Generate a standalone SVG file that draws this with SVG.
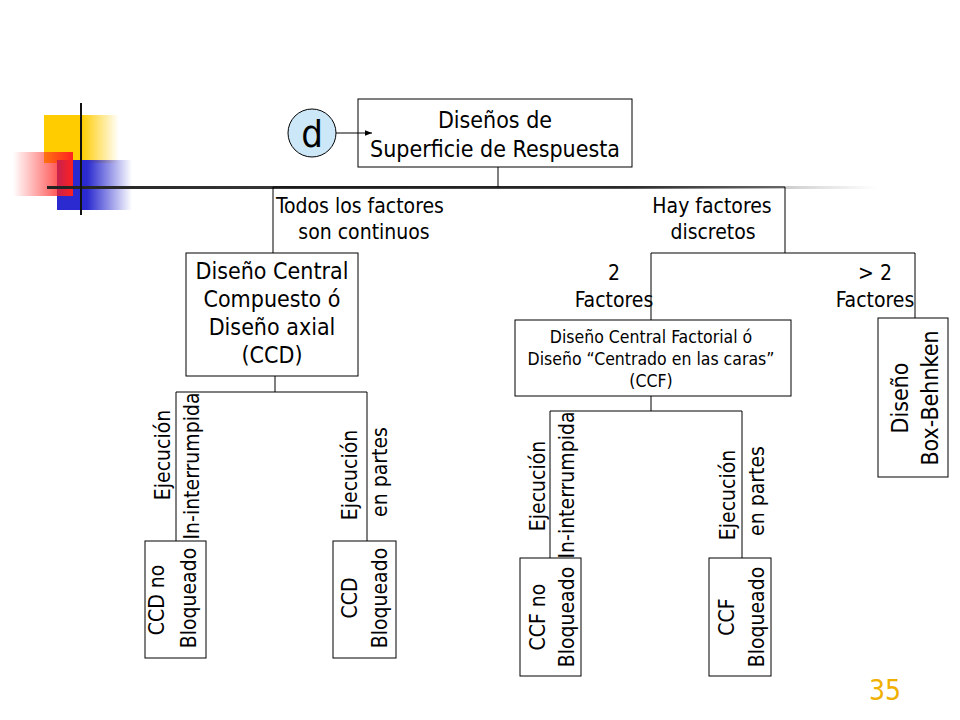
<svg xmlns="http://www.w3.org/2000/svg" width="960" height="720" viewBox="0 0 960 720">
<defs>
<linearGradient id="gy" x1="0" x2="1"><stop offset="0.5" stop-color="#ffcc00"/><stop offset="1" stop-color="#ffcc00" stop-opacity="0"/></linearGradient>
<linearGradient id="gr" x1="1" x2="0"><stop offset="0" stop-color="#ff2020"/><stop offset="1" stop-color="#ff2020" stop-opacity="0"/></linearGradient>
<linearGradient id="gb" x1="0" x2="1"><stop offset="0.4" stop-color="#2a2ad0"/><stop offset="1" stop-color="#2a2ad0" stop-opacity="0"/></linearGradient>
<linearGradient id="gl" x1="0" x2="1"><stop offset="0" stop-color="#222"/><stop offset="0.7" stop-color="#555"/><stop offset="1" stop-color="#888" stop-opacity="0"/></linearGradient>
<marker id="ar" viewBox="0 0 10 10" refX="10" refY="5" markerWidth="7" markerHeight="7" orient="auto"><path d="M0,1 L10,5 L0,9 z" fill="#000"/></marker>
</defs>
<style>
text{font-family:"DejaVu Sans Condensed","DejaVu Sans",sans-serif;font-size:23px;text-anchor:middle;fill:#000}
.s{font-size:21px}
.xs{font-size:17.5px}
rect.n{fill:#fff;stroke:#000;stroke-width:1}
.c line,.c path{stroke:#000;stroke-width:1;fill:none}
</style>
<rect width="960" height="720" fill="#fff"/>
<g id="decor">
<rect x="44" y="115" width="75" height="48" fill="url(#gy)"/>
<rect x="57" y="160" width="75" height="50" fill="url(#gb)"/>
<rect x="13" y="152" width="60" height="44" fill="url(#gr)"/>
<rect x="47" y="186" width="830" height="3" fill="url(#gl)"/>
<rect x="80" y="103" width="2" height="112" fill="#111"/>
</g>
<g id="d"><circle cx="312" cy="133" r="24" fill="#cce8f8" stroke="#000"/><text x="312" y="147" style="font-size:38px">d</text></g>
<g id="top"><rect class="n" x="358" y="99" width="274" height="68"/><text x="495" y="128">Diseños de</text><text x="495" y="157">Superficie de Respuesta</text></g>
<g id="ccd"><rect class="n" x="186" y="253" width="172" height="123"/><text x="272" y="279">Diseño Central</text><text x="272" y="307">Compuesto ó</text><text x="272" y="335">Diseño axial</text><text x="272" y="363">(CCD)</text></g>
<g id="ccf"><rect class="n" x="515" y="320" width="276" height="76"/><text class="xs" x="651" y="343">Diseño Central Factorial ó</text><text class="xs" x="651" y="365">Diseño “Centrado en las caras”</text><text class="xs" x="651" y="387">(CCF)</text></g>
<g id="bb"><rect class="n" x="878" y="318" width="70" height="159"/><text transform="translate(908,398) rotate(-90)">Diseño</text><text transform="translate(938,398) rotate(-90)">Box-Behnken</text></g>
<g id="b1"><rect class="n" x="145" y="541" width="61" height="117"/><text class="s" transform="translate(164,600) rotate(-90)">CCD no</text><text class="s" transform="translate(196,598) rotate(-90)">Bloqueado</text></g>
<g id="b2"><rect class="n" x="333" y="541" width="63" height="117"/><text class="s" transform="translate(357,598) rotate(-90)">CCD</text><text class="s" transform="translate(387,598) rotate(-90)">Bloqueado</text></g>
<g id="b3"><rect class="n" x="520" y="558" width="61" height="118"/><text class="s" transform="translate(545,617) rotate(-90)">CCF no</text><text class="s" transform="translate(574,617) rotate(-90)">Bloqueado</text></g>
<g id="b4"><rect class="n" x="709" y="558" width="62" height="118"/><text class="s" transform="translate(734,617) rotate(-90)">CCF</text><text class="s" transform="translate(764,617) rotate(-90)">Bloqueado</text></g>
<g class="c" id="connectors">
<line x1="336" y1="133" x2="372" y2="133" marker-end="url(#ar)"/>
<line x1="498" y1="167" x2="498" y2="187"/>
<line x1="273" y1="187" x2="785" y2="187"/>
<line x1="273" y1="187" x2="273" y2="253"/>
<line x1="785" y1="187" x2="785" y2="253"/>
<line x1="651" y1="253" x2="915" y2="253"/>
<line x1="651" y1="253" x2="651" y2="320"/>
<line x1="915" y1="253" x2="915" y2="318"/>
<line x1="275" y1="376" x2="275" y2="392"/>
<line x1="176" y1="392" x2="367" y2="392"/>
<line x1="176" y1="392" x2="176" y2="541"/>
<line x1="367" y1="392" x2="367" y2="541"/>
<line x1="651" y1="396" x2="651" y2="411"/>
<line x1="550" y1="411" x2="742" y2="411"/>
<line x1="550" y1="411" x2="550" y2="558"/>
<line x1="742" y1="411" x2="742" y2="558"/>
</g>
<g id="lbl1"><text class="s" x="360" y="213">Todos los factores</text><text class="s" x="364" y="239">son continuos</text></g>
<g id="lbl2"><text class="s" x="712" y="213">Hay factores</text><text class="s" x="713" y="239">discretos</text></g>
<g id="f2"><text class="s" x="614" y="280">2</text><text class="s" x="614" y="307">Factores</text></g>
<g id="f3"><text class="s" x="875" y="280">&gt; 2</text><text class="s" x="875" y="307">Factores</text></g>
<g id="e1"><text class="s" transform="translate(170,455) rotate(-90)">Ejecución</text><text class="s" transform="translate(199,466) rotate(-90)">In-interrumpida</text></g>
<g id="e2"><text class="s" transform="translate(357,475) rotate(-90)">Ejecución</text><text class="s" transform="translate(387,472) rotate(-90)">en partes</text></g>
<g id="e3"><text class="s" transform="translate(545,486) rotate(-90)">Ejecución</text><text class="s" transform="translate(574,485) rotate(-90)">In-interrumpida</text></g>
<g id="e4"><text class="s" transform="translate(735,495) rotate(-90)">Ejecución</text><text class="s" transform="translate(764,491) rotate(-90)">en partes</text></g>
<text x="885" y="700" style="font-size:28px;fill:#f0b000">35</text>
</svg>
